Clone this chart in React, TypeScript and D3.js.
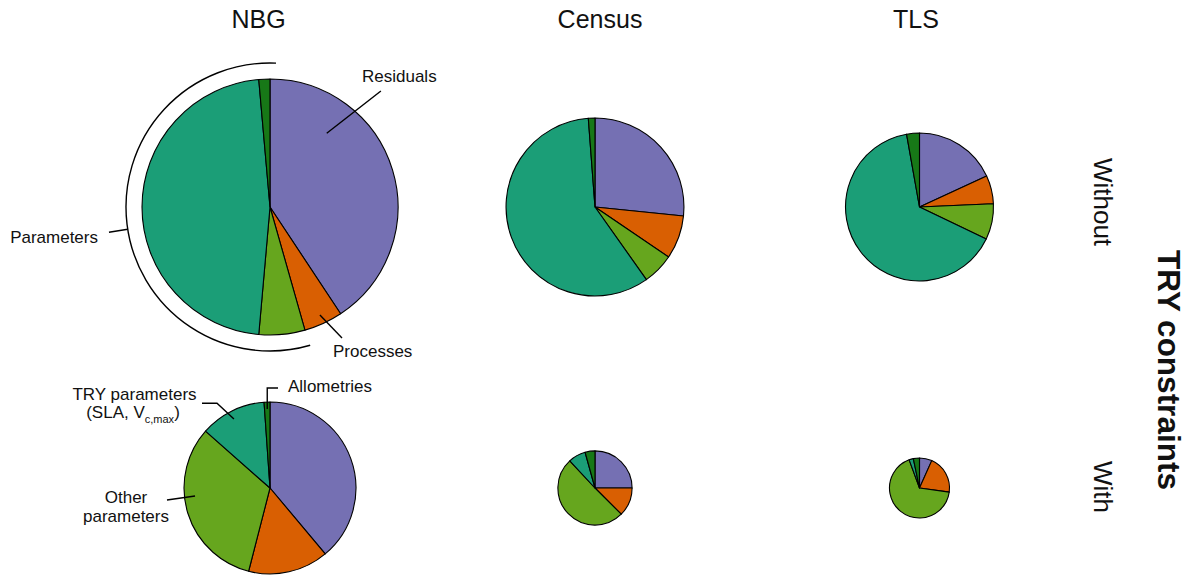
import React from "react";
import * as d3 from "d3";

// Variance sources, in clockwise order from 12 o'clock
const sources = ["Residuals", "Processes", "Other parameters", "TRY parameters", "Allometries"];
const sourceColors = ["#7570B3", "#D95F02", "#66A61E", "#1B9E77", "#177817"];

const datasets = ["NBG", "Census", "TLS"];
const constraintRows = ["Without", "With"];

// Share of total variance per source (without TRY constraints)
const nbgWithout = [0.407, 0.049, 0.058, 0.472, 0.014];
const censusWithout = [0.266, 0.079, 0.057, 0.586, 0.012];
const tlsWithout = [0.181, 0.062, 0.078, 0.651, 0.028];

// Share of total variance per source (with TRY constraints)
const nbgWith = [0.389, 0.151, 0.325, 0.124, 0.011];
const censusWith = [0.25, 0.125, 0.506, 0.076, 0.043];
const tlsWith = [0.067, 0.205, 0.672, 0.023, 0.033];

// Total variance relative to NBG without constraints (sets pie area)
const totalsWithout = [1.0, 0.483, 0.334];
const totalsWith = [0.451, 0.084, 0.055];

const W = 1189;
const H = 579;
const FONT = "'Liberation Sans', Arial, Helvetica, sans-serif";

const colX = [270, 595, 919.5];
const titleX = [258.5, 600, 916];
const rowY = [207, 488];

const radius = d3.scaleSqrt().domain([0, 1]).range([0, 128]);
const pie = d3.pie<number>().sort(null).value((d) => d);
const arc = d3.arc<d3.PieArcDatum<number>>().innerRadius(0);

const deg = (a: number) => (a * Math.PI) / 180;
// polar point relative to a pie centre; angle clockwise from 12 o'clock
const polar = (cx: number, cy: number, r: number, aDeg: number): [number, number] => [
  cx + r * Math.sin(deg(aDeg)),
  cy - r * Math.cos(deg(aDeg)),
];

function Pie({ cx, cy, shares, total }: { cx: number; cy: number; shares: number[]; total: number }) {
  const r = radius(total);
  const arcs = pie(shares);
  return (
    <g transform={`translate(${cx},${cy})`}>
      {arcs.map((a, i) => (
        <path
          key={sources[i]}
          d={arc.outerRadius(r)(a) ?? ""}
          fill={sourceColors[i]}
          stroke="#000"
          strokeWidth={1.1}
          strokeLinejoin="round"
        />
      ))}
    </g>
  );
}

export default function App() {
  const shareRows = [
    [nbgWithout, censusWithout, tlsWithout],
    [nbgWith, censusWith, tlsWith],
  ];
  const totalRows = [totalsWithout, totalsWith];

  // Bracket around the parameter slices of the NBG (without) pie
  const [bx, by] = [colX[0], rowY[0]];
  const bracket = d3.path();
  bracket.arc(bx, by, 144, deg(163.8 - 90), deg(362.4 - 90), false);
  const tickA = polar(bx, by, 144, 261.1);
  const tickB = polar(bx, by, 163, 261.1);

  const resIn = polar(bx, by, 93, 37.6);
  const resOut = polar(bx, by, 160.5, 43.7);
  const procIn = polar(bx, by, 119, 155.2);
  const procOut = polar(bx, by, 149.5, 151.2);

  const [lx, ly] = [colX[0], rowY[1]];
  const tryIn = polar(lx, ly, 77.8, 332.4);
  const tryElbow = polar(lx, ly, 100, 328);
  const allomIn = polar(lx, ly, 79, 358);
  const otherIn = polar(lx, ly, 75.4, 263.9);

  const labelSize = 17;
  const line = d3.line();

  return (
    <svg
      width={W}
      height={H}
      viewBox={`0 0 ${W} ${H}`}
      style={{ position: "absolute", left: 0, top: 0, background: "#fff" }}
      fontFamily={FONT}
    >
      <rect width={W} height={H} fill="#fff" />

      {datasets.map((name, i) => (
        <text key={name} x={titleX[i]} y={28} fontSize={25} textAnchor="middle" fill="#111">
          {name}
        </text>
      ))}

      {shareRows.map((row, ri) =>
        row.map((shares, ci) => (
          <Pie key={`${ri}-${ci}`} cx={colX[ci]} cy={rowY[ri]} shares={shares} total={totalRows[ri][ci]} />
        ))
      )}

      {/* Row labels and margin title */}
      {constraintRows.map((lab, i) => (
        <text
          key={lab}
          transform={`translate(1094,${i === 0 ? 202 : 487}) rotate(90)`}
          fontSize={26}
          textAnchor="middle"
          fill="#111"
        >
          {lab}
        </text>
      ))}
      <text
        transform={`translate(1158,370) rotate(90)`}
        fontSize={31.5}
        fontWeight="bold"
        textAnchor="middle"
        fill="#111"
      >
        TRY constraints
      </text>

      {/* Annotations on NBG, without constraints */}
      <g fill="none" stroke="#000" strokeWidth={1.4}>
        <path d={bracket.toString()} />
        <path d={line([tickA, tickB]) ?? ""} />
        <path d={line([resIn, resOut]) ?? ""} />
        <path d={line([procIn, procOut]) ?? ""} />
      </g>
      <g fontSize={labelSize} fill="#111">
        <text x={98} y={243} textAnchor="end">Parameters</text>
        <text x={362} y={82}>Residuals</text>
        <text x={333} y={357}>Processes</text>
      </g>

      {/* Annotations on NBG, with constraints */}
      <g fill="none" stroke="#000" strokeWidth={1.4}>
        <path d={line([tryIn, tryElbow, [202, tryElbow[1]]]) ?? ""} />
        <path d={line([allomIn, [allomIn[0], 388], [278, 388]]) ?? ""} />
        <path d={line([otherIn, [167, otherIn[1] + 4]]) ?? ""} />
      </g>
      <g fontSize={labelSize} fill="#111">
        <text x={134.5} y={400} textAnchor="middle">TRY parameters</text>
        <text x={133} y={418} textAnchor="middle">
          (SLA, V
          <tspan fontSize={11} dy={5}>c,max</tspan>
          <tspan dy={-5}>)</tspan>
        </text>
        <text x={288} y={392}>Allometries</text>
        <text x={126} y={503} textAnchor="middle">Other</text>
        <text x={126} y={522} textAnchor="middle">parameters</text>
      </g>
    </svg>
  );
}
